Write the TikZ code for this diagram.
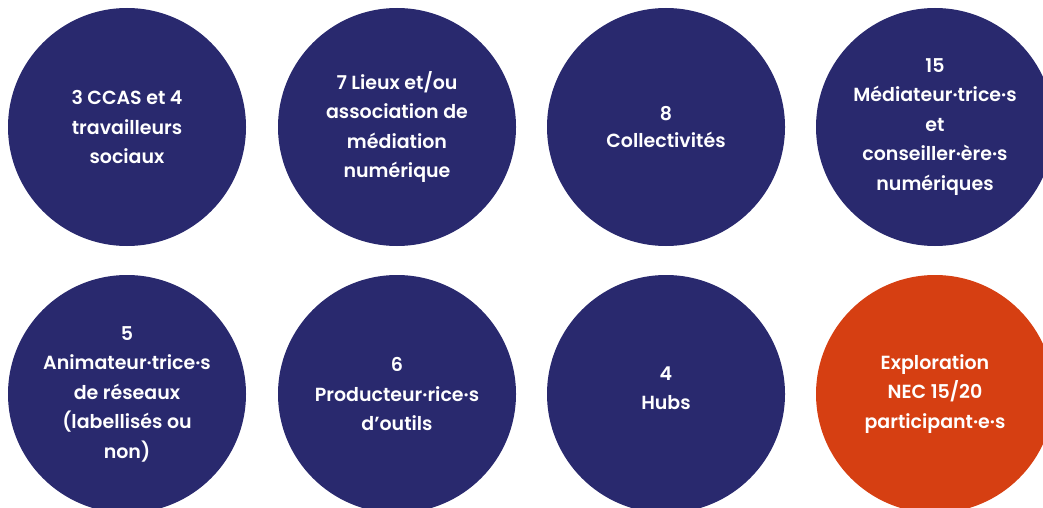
\documentclass[tikz,border=0pt]{standalone}
\usepackage{fontspec}
\setmainfont{Poppins}[UprightFont=* SemiBold]
\definecolor{navy}{HTML}{29296E}
\definecolor{rouge}{HTML}{D63F12}
\begin{document}
\begin{tikzpicture}[x=1pt,y=-1pt,
  bubtext/.style={text=white,align=center,inner sep=0pt,font=\fontsize{19}{29.5}\selectfont},
  bubble/.style={bubtext,circle,fill=navy,minimum size=238pt},
  hot/.style={bubble,fill=rouge}]
\useasboundingbox (0,0) rectangle (1043,508);
\clip (0,0) rectangle (1043,508);
\node[bubble] (a) at (127,127) {3 CCAS et 4\\travailleurs\\sociaux};
\node[bubble] (b) at (397,127) {7 Lieux et/ou\\association de\\médiation\\numérique};
\node[bubble] (c) at (666,127) {8\\[-2pt]Collectivités};
\node[bubble] (d) at (935,127) {15\\Médiateur·trice·s\\et\\conseiller·ère·s\\numériques};
\node[bubble] (e) at (127,394) {5\\Animateur·trice·s\\de réseaux\\(labellisés ou\\non)};
\node[bubble] (f) at (397,394) {6\\Producteur·rice·s\\d’outils};
\node[bubble] (g) at (666,394) {};
\node[bubtext] (gt) at (666,388) {4\\[-1pt]Hubs};
\node[hot] (h) at (935,394) {Exploration\\NEC 15/20\\participant·e·s};
\end{tikzpicture}
\end{document}
